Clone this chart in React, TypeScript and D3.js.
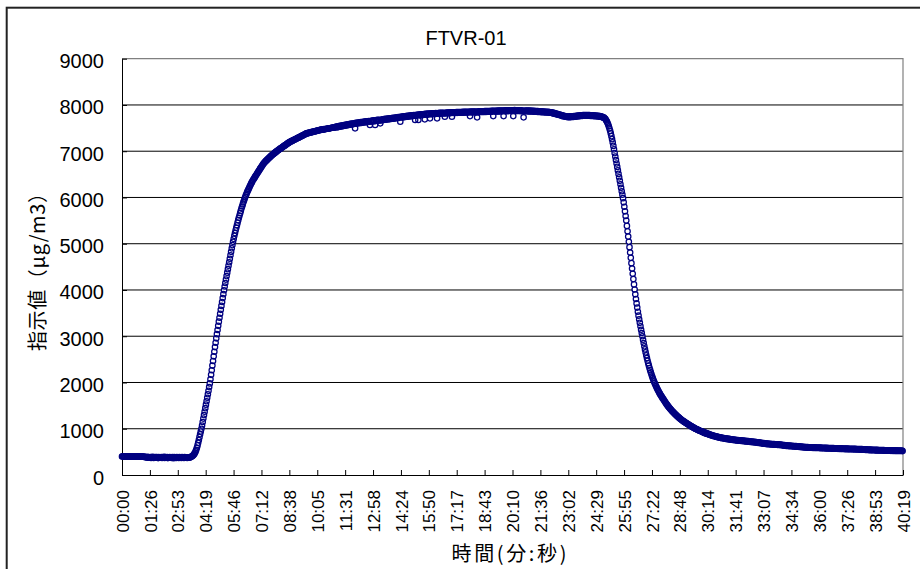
import React, { useEffect, useRef } from "react";
import * as d3 from "d3";

// chart texts
const chartTitle = "FTVR-01";
const yAxisTitle = "指示値（μg/m3）";
const xAxisTitle = "時間(分:秒)";

// y axis ticks, μg/m3
const yTicks = [0, 1000, 2000, 3000, 4000, 5000, 6000, 7000, 8000, 9000];

// x axis labels, one every 0.001 day (86.4 s)
const xTickLabels = [
  "00:00", "01:26", "02:53", "04:19", "05:46", "07:12", "08:38", "10:05",
  "11:31", "12:58", "14:24", "15:50", "17:17", "18:43", "20:10", "21:36",
  "23:02", "24:29", "25:55", "27:22", "28:48", "30:14", "31:41", "33:07",
  "34:34", "36:00", "37:26", "38:53", "40:19",
];
const tickStepSec = 86.4;

// readings, one every 2 s starting at 00:00 (one row = one minute)
const sampleStepSec = 2;
const readings = [
  400, 402, 398, 401, 399, 403, 400, 397, 401, 399, 402, 398, 400, 396, 401, 399, 397, 400, 398, 395, 399, 397, 400, 396, 398, 394, 397, 399, 395, 398,
  396, 398, 394, 397, 392, 395, 385, 390, 378, 392, 372, 388, 380, 375, 390, 370, 385, 378, 392, 368, 384, 376, 390, 372, 386, 380, 366, 388, 374, 382,
  378, 390, 370, 384, 376, 392, 368, 386, 374, 380, 388, 365, 382, 376, 390, 372, 384, 370, 386, 378, 364, 388, 376, 382, 370, 390, 374, 380, 368, 386,
  376, 384, 370, 388, 374, 380, 368, 386, 376, 372, 382, 370, 378, 374, 380, 378, 385, 392, 400, 410, 422, 437, 456, 480, 510, 546, 590, 640, 696, 756,
  818, 880, 940, 1000, 1070, 1145, 1220, 1295, 1370, 1445, 1520, 1595, 1670, 1745, 1820, 1900, 1980, 2070, 2165, 2265, 2365, 2465, 2565, 2665, 2765, 2860, 2955, 3045, 3135, 3225,
  3315, 3400, 3485, 3570, 3655, 3740, 3825, 3910, 3995, 4075, 4150, 4225, 4300, 4375, 4450, 4525, 4600, 4675, 4750, 4825, 4900, 4970, 5040, 5105, 5170, 5230, 5290, 5345, 5400, 5455,
  5510, 5560, 5610, 5660, 5710, 5760, 5805, 5850, 5895, 5935, 5975, 6015, 6050, 6085, 6120, 6150, 6180, 6210, 6240, 6270, 6300, 6325, 6350, 6375, 6398, 6421, 6444, 6467, 6490, 6512,
  6534, 6556, 6578, 6600, 6622, 6643, 6664, 6685, 6706, 6727, 6745, 6760, 6775, 6790, 6804, 6818, 6832, 6846, 6859, 6872, 6885, 6898, 6910, 6922, 6934, 6946, 6958, 6969, 6980, 6991,
  7002, 7015, 7020, 7035, 7040, 7055, 7060, 7074, 7080, 7095, 7100, 7114, 7120, 7134, 7140, 7155, 7160, 7174, 7180, 7192, 7198, 7208, 7212, 7222, 7226, 7237, 7240, 7251, 7254, 7265,
  7270, 7280, 7283, 7293, 7297, 7306, 7311, 7322, 7326, 7336, 7340, 7350, 7355, 7364, 7369, 7379, 7384, 7390, 7391, 7398, 7398, 7405, 7405, 7412, 7412, 7419, 7419, 7426, 7426, 7432,
  7434, 7440, 7440, 7447, 7447, 7454, 7456, 7460, 7460, 7466, 7465, 7471, 7470, 7476, 7475, 7481, 7480, 7486, 7485, 7491, 7490, 7496, 7495, 7501, 7502, 7507, 7508, 7513, 7513, 7518,
  7522, 7512, 7530, 7518, 7536, 7522, 7541, 7530, 7548, 7535, 7552, 7540, 7560, 7546, 7566, 7552, 7570, 7558, 7575, 7563, 7580, 7566, 7586, 7572, 7590, 7578, 7596, 7582, 7600, 7588,
  7605, 7494, 7612, 7598, 7616, 7603, 7620, 7606, 7625, 7610, 7630, 7614, 7632, 7619, 7637, 7622, 7640, 7626, 7645, 7630, 7648, 7634, 7652, 7637, 7566, 7642, 7658, 7644, 7662, 7648,
  7666, 7650, 7566, 7655, 7672, 7658, 7676, 7662, 7680, 7665, 7602, 7668, 7686, 7672, 7690, 7676, 7694, 7680, 7698, 7684, 7702, 7688, 7705, 7692, 7709, 7695, 7712, 7700, 7716, 7703,
  7720, 7705, 7724, 7710, 7728, 7714, 7732, 7718, 7736, 7722, 7740, 7638, 7744, 7728, 7748, 7733, 7752, 7737, 7756, 7741, 7760, 7745, 7763, 7749, 7767, 7752, 7770, 7756, 7774, 7760,
  7778, 7762, 7781, 7766, 7674, 7769, 7786, 7772, 7789, 7674, 7792, 7777, 7795, 7780, 7798, 7783, 7800, 7786, 7803, 7689, 7806, 7790, 7808, 7793, 7811, 7796, 7813, 7711, 7815, 7800,
  7817, 7802, 7819, 7805, 7821, 7807, 7823, 7809, 7711, 7810, 7826, 7812, 7828, 7813, 7829, 7815, 7831, 7816, 7832, 7818, 7746, 7819, 7835, 7820, 7836, 7822, 7837, 7823, 7838, 7824,
  7840, 7746, 7841, 7826, 7842, 7828, 7843, 7829, 7844, 7830, 7845, 7831, 7846, 7832, 7847, 7833, 7848, 7834, 7849, 7835, 7850, 7836, 7851, 7837, 7852, 7838, 7853, 7839, 7854, 7760,
  7855, 7840, 7856, 7841, 7857, 7842, 7858, 7843, 7859, 7844, 7732, 7845, 7861, 7846, 7862, 7847, 7863, 7848, 7864, 7849, 7865, 7850, 7866, 7851, 7867, 7852, 7868, 7853, 7869, 7854,
  7870, 7855, 7871, 7856, 7872, 7760, 7873, 7858, 7874, 7859, 7875, 7860, 7876, 7861, 7877, 7862, 7878, 7863, 7879, 7864, 7880, 7760, 7881, 7866, 7882, 7867, 7883, 7868, 7884, 7869,
  7885, 7870, 7886, 7871, 7886, 7871, 7760, 7872, 7887, 7872, 7886, 7871, 7885, 7870, 7884, 7869, 7883, 7868, 7882, 7867, 7881, 7866, 7732, 7865, 7880, 7864, 7879, 7863, 7878, 7862,
  7877, 7861, 7876, 7860, 7875, 7858, 7873, 7857, 7872, 7855, 7870, 7854, 7868, 7852, 7866, 7850, 7864, 7848, 7862, 7846, 7860, 7844, 7858, 7842, 7856, 7840, 7854, 7838, 7852, 7836,
  7850, 7838, 7846, 7834, 7842, 7830, 7838, 7820, 7830, 7812, 7822, 7806, 7815, 7798, 7808, 7790, 7800, 7783, 7792, 7776, 7782, 7764, 7774, 7756, 7766, 7750, 7760, 7744, 7754, 7740,
  7748, 7734, 7750, 7736, 7752, 7738, 7754, 7740, 7756, 7742, 7758, 7745, 7762, 7748, 7765, 7752, 7768, 7756, 7772, 7759, 7775, 7762, 7777, 7764, 7779, 7766, 7780, 7767, 7781, 7768,
  7782, 7768, 7781, 7767, 7780, 7765, 7778, 7763, 7776, 7761, 7774, 7759, 7772, 7757, 7770, 7755, 7767, 7752, 7764, 7749, 7760, 7745, 7752, 7738, 7742, 7728, 7730, 7716, 7706, 7690,
  7665, 7640, 7610, 7575, 7535, 7490, 7440, 7385, 7325, 7260, 7190, 7115, 7040, 6960, 6885, 6810, 6735, 6660, 6585, 6510, 6435, 6360, 6285, 6210, 6135, 6060, 5985, 5895, 5800, 5700,
  5600, 5500, 5385, 5270, 5155, 5040, 4925, 4810, 4695, 4580, 4465, 4350, 4235, 4120, 4010, 3905, 3805, 3710, 3620, 3530, 3445, 3365, 3290, 3215, 3140, 3070, 3000, 2925, 2852, 2782,
  2715, 2650, 2588, 2528, 2471, 2416, 2364, 2314, 2266, 2220, 2176, 2134, 2094, 2056, 2020, 1986, 1954, 1923, 1893, 1864, 1836, 1809, 1783, 1758, 1734, 1711, 1689, 1667, 1646, 1626,
  1603, 1581, 1560, 1540, 1520, 1501, 1482, 1464, 1447, 1430, 1414, 1398, 1383, 1368, 1354, 1340, 1325, 1311, 1297, 1284, 1271, 1258, 1246, 1234, 1222, 1211, 1200, 1189, 1178, 1168,
  1158, 1148, 1138, 1129, 1120, 1111, 1102, 1093, 1084, 1075, 1066, 1058, 1050, 1042, 1034, 1026, 1018, 1010, 1002, 995, 988, 982, 975, 969, 962, 956, 950, 944, 938, 932,
  932, 916, 921, 905, 910, 894, 899, 884, 889, 874, 879, 864, 869, 855, 860, 846, 852, 838, 844, 830, 836, 822, 829, 815, 822, 809, 816, 803, 810, 797,
  805, 792, 800, 787, 795, 782, 790, 777, 785, 773, 780, 768, 776, 764, 772, 760, 768, 756, 764, 752, 760, 749, 757, 746, 754, 743, 751, 740, 748, 737,
  746, 734, 743, 731, 740, 728, 737, 725, 734, 722, 731, 719, 728, 716, 725, 713, 722, 710, 719, 707, 716, 704, 712, 700, 708, 696, 704, 692, 700, 688,
  696, 684, 692, 680, 688, 676, 684, 672, 680, 668, 677, 666, 675, 664, 673, 662, 671, 660, 669, 658, 667, 656, 665, 654, 663, 652, 661, 650, 659, 648,
  657, 645, 653, 641, 649, 637, 645, 633, 641, 629, 638, 627, 636, 625, 634, 623, 632, 621, 630, 619, 627, 616, 625, 614, 623, 612, 621, 610, 619, 608,
  617, 605, 614, 602, 611, 599, 608, 596, 605, 594, 603, 592, 602, 591, 601, 590, 600, 589, 599, 588, 597, 587, 596, 586, 595, 585, 594, 584, 593, 583,
  592, 582, 591, 581, 590, 579, 589, 578, 588, 577, 586, 576, 585, 575, 584, 573, 583, 572, 582, 571, 581, 570, 580, 569, 579, 568, 578, 567, 577, 566,
  576, 565, 575, 564, 574, 563, 573, 562, 572, 561, 571, 560, 570, 559, 569, 558, 568, 557, 567, 556, 566, 556, 565, 555, 565, 554, 564, 554, 563, 553,
  562, 552, 561, 550, 560, 549, 558, 548, 557, 546, 555, 544, 553, 543, 552, 541, 550, 539, 548, 537, 547, 536, 546, 535, 545, 534, 544, 533, 543, 532,
  542, 532, 541, 531, 540, 530, 539, 529, 538, 528, 537, 527, 536, 526, 536, 525, 535, 525, 534, 524, 533, 523, 533, 522, 532, 522, 531, 521, 531, 520,
  530, 520, 529, 519, 529, 518, 528, 518, 527, 517,
];

const latin = "'Liberation Sans', Arial, sans-serif";
const cjk = "'Noto Sans CJK JP', 'Liberation Sans', sans-serif";

const App = () => {
  const ref = useRef<SVGSVGElement>(null);

  useEffect(() => {
    const svg = d3.select(ref.current);
    svg.selectAll("*").remove();

    const width = 920;
    const height = 569;
    const margin = { top: 58.7, right: 17, bottom: 94, left: 122 };

    const x = d3.scaleLinear()
      .domain([0, tickStepSec * (xTickLabels.length - 1)])
      .range([margin.left, width - margin.right]);

    const y = d3.scaleLinear()
      .domain([0, yTicks[yTicks.length - 1]])
      .range([height - margin.bottom, margin.top]);

    // outer chart frame
    svg.append("rect")
      .attr("x", 6.7).attr("y", 7.7)
      .attr("width", 1000).attr("height", 1000)
      .attr("fill", "#fff")
      .attr("stroke", "#222")
      .attr("stroke-width", 2);

    // gridlines
    svg.append("g")
      .selectAll("line")
      .data(yTicks.slice(1, -1))
      .join("line")
      .attr("x1", margin.left).attr("x2", width - margin.right)
      .attr("y1", d => y(d)).attr("y2", d => y(d))
      .attr("stroke", "#000")
      .attr("stroke-width", 1);

    // plot area border (top, right)
    svg.append("path")
      .attr("d", `M${margin.left},${y(9000)}H${width - margin.right}V${y(0)}`)
      .attr("fill", "none")
      .attr("stroke", "#808080")
      .attr("stroke-width", 1.2);

    // y axis
    const gy = svg.append("g")
      .attr("transform", `translate(${margin.left},0)`)
      .call(d3.axisLeft(y).tickValues(yTicks).tickFormat(d3.format("d"))
        .tickSizeInner(-5).tickSizeOuter(0).tickPadding(18));
    gy.select(".domain").attr("stroke", "#000");
    gy.selectAll("line").attr("stroke", "#000");
    gy.selectAll("text")
      .attr("font-family", latin)
      .attr("font-size", 20)
      .attr("fill", "#000")
      .attr("dy", "0.45em");

    // x axis
    const tickValues = xTickLabels.map((_, i) => i * tickStepSec);
    const gx = svg.append("g")
      .attr("transform", `translate(0,${height - margin.bottom})`)
      .call(d3.axisBottom(x).tickValues(tickValues)
        .tickFormat((_, i) => xTickLabels[i]).tickSizeInner(-5).tickSizeOuter(0));
    gx.select(".domain").attr("stroke", "#000");
    gx.selectAll("line").attr("stroke", "#000");
    gx.selectAll("text")
      .attr("font-family", latin)
      .attr("font-size", 17)
      .attr("fill", "#000")
      .attr("transform", "rotate(-90)")
      .attr("x", -15)
      .attr("y", 0)
      .attr("dy", "0.36em")
      .attr("text-anchor", "end");

    // markers: white fill under, rings on top
    const pts = readings.map((v, i) => [x(i * sampleStepSec), y(v)]);
    svg.append("g")
      .selectAll("circle")
      .data(pts)
      .join("circle")
      .attr("cx", d => d[0]).attr("cy", d => d[1])
      .attr("r", 2.1)
      .attr("fill", "#fff");
    svg.append("g")
      .selectAll("circle")
      .data(pts)
      .join("circle")
      .attr("cx", d => d[0]).attr("cy", d => d[1])
      .attr("r", 2.7)
      .attr("fill", "none")
      .attr("stroke", "#000080")
      .attr("stroke-width", 1.25);

    // title
    svg.append("text")
      .attr("x", 466).attr("y", 45)
      .attr("text-anchor", "middle")
      .attr("font-family", latin)
      .attr("font-size", 20)
      .text(chartTitle);

    // axis titles
    svg.append("text")
      .attr("transform", "translate(45,267) rotate(-90)")
      .attr("text-anchor", "middle")
      .attr("font-family", cjk)
      .attr("font-size", 20)
      .attr("textLength", 168)
      .attr("lengthAdjust", "spacing")
      .text(yAxisTitle);

    svg.append("text")
      .attr("x", 509).attr("y", 561)
      .attr("text-anchor", "middle")
      .attr("font-family", cjk)
      .attr("font-size", 20)
      .attr("textLength", 115)
      .attr("lengthAdjust", "spacing")
      .text(xAxisTitle);
  }, []);

  return (
    <svg
      ref={ref}
      width={920}
      height={569}
      style={{ position: "absolute", left: 0, top: 0, display: "block" }}
    />
  );
};

export default App;
